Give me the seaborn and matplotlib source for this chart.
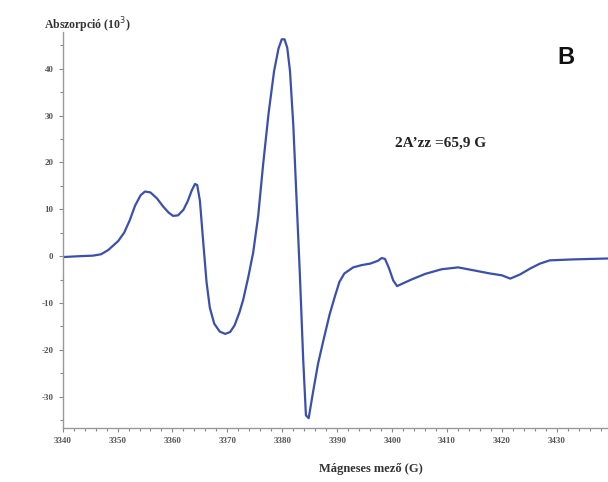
import matplotlib
matplotlib.use("Agg")
import matplotlib.pyplot as plt
import seaborn as sns
import pandas as pd
from matplotlib.ticker import MultipleLocator

# EPR spectrum
field = [3340, 3343.2, 3345.5, 3347, 3348.3, 3350.1, 3351.2, 3352.2, 3353.2, 3354.2,
         3355, 3356, 3357.2, 3358.3, 3359.3, 3360.1, 3361, 3362, 3362.8, 3363.5,
         3364.1, 3364.5, 3365, 3365.6, 3366.2, 3366.8, 3367.6, 3368.6, 3369.6, 3370.5,
         3371.3, 3372.2, 3372.9, 3373.8, 3374.7, 3375.6, 3376.5, 3377.5, 3378.5, 3379.3,
         3379.9, 3380.4, 3380.9, 3381.4, 3382, 3382.6, 3383.2, 3383.8, 3384.3, 3384.8,
         3385.6, 3386.5, 3387.5, 3388.6, 3389.6, 3390.4, 3391.3, 3392.9, 3394.5, 3396,
         3397.4, 3398.1, 3398.7, 3399.4, 3400.2, 3400.9, 3402, 3403.5, 3406, 3409,
         3412, 3414.7, 3417.8, 3420, 3421.5, 3423.3, 3425.2, 3426.9, 3428.7, 3432.9,
         3436, 3439.3]
absorp = [-0.2, 0, 0.1, 0.4, 1.3, 3.2, 5.0, 7.6, 10.8, 13.0,
          13.8, 13.6, 12.3, 10.6, 9.3, 8.6, 8.7, 9.9, 11.8, 14.0,
          15.4, 15.2, 11.8, 3.0, -5.5, -11.0, -14.4, -16.1, -16.6, -16.2,
          -14.8, -12.0, -9.2, -4.5, 0.8, 8.5, 19.5, 30.5, 39.5, 44.3,
          46.3, 46.3, 44.5, 39.5, 28.0, 12.0, -4.0, -22.0, -34.0, -34.6,
          -29.0, -23.0, -17.9, -12.5, -8.5, -5.5, -3.7, -2.4, -1.9, -1.6,
          -1.0, -0.4, -0.6, -2.5, -5.2, -6.4, -5.8, -5.0, -3.8, -2.8,
          -2.4, -3.0, -3.7, -4.1, -4.8, -3.9, -2.6, -1.6, -0.9, -0.7,
          -0.6, -0.5]

df = pd.DataFrame({"field": field, "absorp": absorp})

sns.set_style("ticks")
plt.rcParams["axes.unicode_minus"] = False
fig = plt.figure(figsize=(6.08, 4.82), dpi=100)
ax = fig.add_axes([0.103, 0.112, 0.897, 0.822])

sns.lineplot(data=df, x="field", y="absorp", ax=ax, color="#3b4fae", linewidth=1.6)

ax.set_xlim(3340, 3439.3)
ax.set_ylim(-36.7, 47.9)
ax.xaxis.set_minor_locator(MultipleLocator(2))
ax.yaxis.set_major_locator(MultipleLocator(10))
ax.yaxis.set_minor_locator(MultipleLocator(5))
ax.set_xticks(range(3340, 3440, 10))
ax.tick_params(which="both", colors="#888888", labelcolor="#555555", labelsize=6.5, width=0.8)
ax.tick_params(which="major", length=3)
ax.tick_params(which="minor", length=2)
for lab in ax.get_xticklabels() + ax.get_yticklabels():
    lab.set_fontweight("bold")
    lab.set_family("Liberation Serif")
for s in ["top", "right"]:
    ax.spines[s].set_visible(False)
for s in ["left", "bottom"]:
    ax.spines[s].set_color("#999999")
    ax.spines[s].set_linewidth(1.0)

ax.set_xlabel("")
ax.set_ylabel("")

fig.text(0.073, 0.948, "Abszorpció (10$^3$)", family="Liberation Serif", fontweight="bold",
         fontsize=8.5, color="#333333", va="center")
fig.text(0.61, 0.027, "Mágneses mező (G)", family="Liberation Serif", fontweight="bold",
         fontsize=9, color="#333333", ha="center", va="center")
fig.text(0.65, 0.703, "2A’zz =65,9 G", family="Liberation Serif", fontweight="bold",
         fontsize=11, color="#222222", va="center")
fig.text(0.93, 0.88, "B", family="Liberation Sans", fontweight="bold",
         fontsize=17, color="#111111", ha="center", va="center")

fig.savefig("out.png", dpi=100)
